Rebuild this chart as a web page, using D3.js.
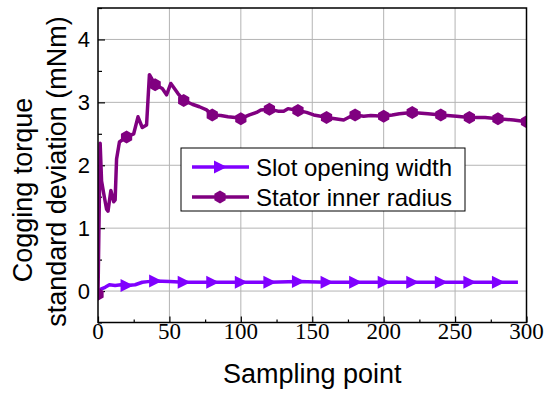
<!DOCTYPE html>
<html>
<head>
<meta charset="utf-8">
<script src="https://cdn.jsdelivr.net/npm/d3@7"></script>
<style>
  body { margin: 0; background: #fff; }
  svg { display: block; }
</style>
</head>
<body>
<svg id="chart" width="550" height="398" viewBox="0 0 550 398"></svg>
<script>
// values
const xTicks = [0, 50, 100, 150, 200, 250, 300]
const yTicks = [0, 1, 2, 3, 4]
const seriesNames = ["Slot opening width", "Stator inner radius"]

const slotX = [0, 2, 5, 8, 12, 16, 20, 26, 31, 35, 40, 50, 60, 80, 100, 120, 140, 160, 180, 200, 220, 240, 260, 280, 294]
const slotY = [-0.02, 0.03, 0.06, 0.10, 0.09, 0.10, 0.09, 0.10, 0.14, 0.15, 0.16, 0.15, 0.14, 0.14, 0.14, 0.14, 0.15, 0.14, 0.14, 0.14, 0.14, 0.14, 0.14, 0.14, 0.14]

const statorX = [0, 1.5, 2.5, 4, 6, 7, 9, 11, 12, 13, 15, 18, 20, 25, 28, 31, 34, 36, 38, 40, 45, 48, 51, 56, 60, 66, 71, 76, 80, 86, 91, 96, 100, 106, 111, 114, 120, 126, 130, 133, 140, 146, 151, 156, 160, 166, 172, 177, 180, 186, 191, 200, 206, 211, 220, 231, 240, 251, 260, 271, 280, 291, 300]
const statorY = [-0.05, 2.35, 1.75, 1.55, 1.3, 1.27, 1.6, 1.42, 1.45, 2.1, 2.37, 2.42, 2.45, 2.5, 2.77, 2.6, 2.64, 3.44, 3.36, 3.28, 3.22, 3.12, 3.30, 3.14, 3.03, 2.97, 2.93, 2.88, 2.80, 2.79, 2.77, 2.76, 2.74, 2.80, 2.84, 2.88, 2.89, 2.86, 2.86, 2.90, 2.87, 2.84, 2.80, 2.78, 2.76, 2.74, 2.72, 2.78, 2.80, 2.78, 2.79, 2.78, 2.80, 2.82, 2.84, 2.82, 2.80, 2.78, 2.76, 2.76, 2.74, 2.72, 2.69]

const slotColor = "#8000ff"
const statorColor = "#800080"

const svg = d3.select("#chart")
const pLeft = 98, pRight = 526.5, pTop = 8, pBottom = 322.5

const x = d3.scaleLinear().domain([0, 300]).range([pLeft, pRight])
const y = d3.scaleLinear().domain([-0.5, 4.5]).range([pBottom, pTop])

svg.append("defs").append("clipPath").attr("id", "plotclip")
    .append("rect")
    .attr("x", pLeft).attr("y", pTop)
    .attr("width", pRight - pLeft).attr("height", pBottom - pTop)

// grid
const grid = svg.append("g").attr("stroke", "#b4b4b4").attr("stroke-width", 1)
grid.selectAll(".vg").data(xTicks.filter(d => d > 0 && d < 300)).enter()
    .append("line")
    .attr("x1", d => x(d)).attr("x2", d => x(d))
    .attr("y1", pTop).attr("y2", pBottom)
grid.selectAll(".hg").data(yTicks).enter()
    .append("line")
    .attr("x1", pLeft).attr("x2", pRight)
    .attr("y1", d => y(d)).attr("y2", d => y(d))

// axes with inward ticks
const xAxis = d3.axisBottom(x).tickValues(d3.range(0, 301, 25))
    .tickSize(-5).tickFormat("")
const gx = svg.append("g").attr("transform", `translate(0,${pBottom})`).call(xAxis)
gx.selectAll(".tick line").attr("y2", d => d % 50 === 0 ? -6 : -3)
gx.select(".domain").remove()

const yAxis = d3.axisLeft(y).tickValues(d3.range(-0.5, 4.51, 0.5))
    .tickSize(-6).tickFormat("")
const gy = svg.append("g").attr("transform", `translate(${pLeft},0)`).call(yAxis)
gy.selectAll(".tick line").attr("x2", d => Number.isInteger(d) ? 7 : 4)
gy.select(".domain").remove()
svg.selectAll(".tick line").attr("stroke", "#000").attr("stroke-width", 1.2)

svg.append("g").selectAll("text").data(xTicks).enter()
    .append("text")
    .attr("x", d => x(d)).attr("y", 339)
    .attr("text-anchor", "middle")
    .attr("font-family", "Liberation Serif, Times New Roman, serif")
    .attr("font-size", 23)
    .text(d => d)

svg.append("g").selectAll("text").data(yTicks).enter()
    .append("text")
    .attr("x", 90).attr("y", d => y(d) + 8)
    .attr("text-anchor", "end")
    .attr("font-family", "Liberation Sans, Arial, sans-serif")
    .attr("font-size", 22)
    .text(d => d)

// lines
const line = d3.line().x(d => x(d[0])).y(d => y(d[1]))
const slotData = slotX.map((v, i) => [v, slotY[i]])
const statorData = statorX.map((v, i) => [v, statorY[i]])

const hexPath = r => {
    let pts = d3.range(6).map(k => {
        const a = Math.PI / 3 * k - Math.PI / 2
        return [r * Math.cos(a), r * Math.sin(a)]
    })
    return "M" + pts.map(p => p.join(",")).join("L") + "Z"
}
const triPath = "M-6,-6.5L7,0L-6,6.5Z"

const plot = svg.append("g").attr("clip-path", "url(#plotclip)")

plot.append("path").datum(slotData)
    .attr("d", line)
    .attr("fill", "none")
    .attr("stroke", slotColor)
    .attr("stroke-width", 3.5)
    .attr("stroke-linejoin", "round")
plot.selectAll(".tri").data(slotData.filter(d => d[0] % 20 === 0 && d[0] > 0))
    .enter().append("path")
    .attr("d", triPath)
    .attr("transform", d => `translate(${x(d[0])},${y(d[1])})`)
    .attr("fill", slotColor)

plot.append("path").datum(statorData)
    .attr("d", line)
    .attr("fill", "none")
    .attr("stroke", statorColor)
    .attr("stroke-width", 3.5)
    .attr("stroke-linejoin", "round")
plot.selectAll(".hex").data(statorData.filter(d => d[0] % 20 === 0))
    .enter().append("path")
    .attr("d", hexPath(6.5))
    .attr("transform", d => `translate(${x(d[0])},${y(d[1])})`)
    .attr("fill", statorColor)

// frame
svg.append("rect")
    .attr("x", pLeft).attr("y", pTop)
    .attr("width", pRight - pLeft).attr("height", pBottom - pTop)
    .attr("fill", "none").attr("stroke", "#000").attr("stroke-width", 1.5)

// legend
const lg = svg.append("g")
lg.append("rect")
    .attr("x", 181).attr("y", 148).attr("width", 284).attr("height", 63)
    .attr("fill", "#fff").attr("stroke", "#000").attr("stroke-width", 1)
const legendY = [167, 197]
const legendColors = [slotColor, statorColor]
seriesNames.forEach((name, i) => {
    lg.append("line")
        .attr("x1", 192).attr("x2", 249)
        .attr("y1", legendY[i]).attr("y2", legendY[i])
        .attr("stroke", legendColors[i]).attr("stroke-width", 3.5)
    lg.append("path")
        .attr("d", i === 0 ? triPath : hexPath(6.5))
        .attr("transform", `translate(220,${legendY[i]})`)
        .attr("fill", legendColors[i])
    lg.append("text")
        .attr("x", 256).attr("y", legendY[i] + 9)
        .attr("font-family", "Liberation Sans, Arial, sans-serif")
        .attr("font-size", 24)
        .text(name)
})

// axis titles
svg.append("text")
    .attr("x", (pLeft + pRight) / 2).attr("y", 383)
    .attr("text-anchor", "middle")
    .attr("font-family", "Liberation Sans, Arial, sans-serif")
    .attr("font-size", 27)
    .text("Sampling point")

svg.append("text")
    .attr("transform", "translate(32,190) rotate(-90)")
    .attr("text-anchor", "middle")
    .attr("font-family", "Liberation Sans, Arial, sans-serif")
    .attr("font-size", 27)
    .text("Cogging torque")
svg.append("text")
    .attr("transform", "translate(65.5,171.5) rotate(-90)")
    .attr("text-anchor", "middle")
    .attr("font-family", "Liberation Sans, Arial, sans-serif")
    .attr("font-size", 27)
    .text("standard deviation (mNm)")
</script>
</body>
</html>
